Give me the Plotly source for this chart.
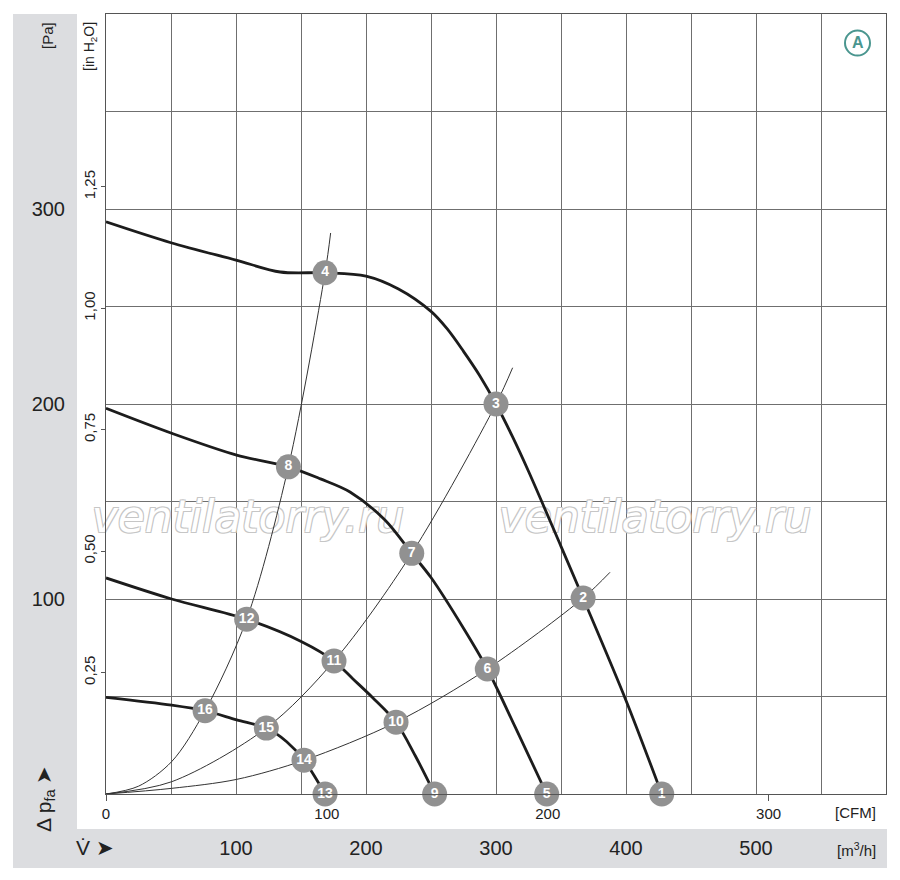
import plotly.graph_objects as go

# --- data (flow in m3/h, pressure in Pa) ---
fan1_flow = [0, 50, 100, 134, 168.5, 200, 225, 250, 262.5, 275, 287.5, 300, 312.5, 325, 350, 367, 400, 427.5]
fan1_pa = [293.4, 282.7, 273.8, 267.7, 267.3, 265.6, 259, 247.5, 238.5, 227, 214.5, 200, 183.5,
           165.5, 127, 100.5, 48, 0]

fan2_flow = [0, 50.5, 100.5, 140.3, 165, 187.7, 214.6, 235.2, 250, 275, 293.3, 315, 339]
fan2_pa = [197.8, 185, 173.8, 167.8, 161.6, 154.9, 140.5, 123.4, 111, 85, 64.1, 34, 0]

fan3_flow = [0, 50.5, 108.2, 150.5, 175.4, 190, 205, 223.1, 238, 252.8]
fan3_pa = [110.8, 100, 89.6, 78.1, 68.2, 59, 49.5, 36.8, 19.5, 0]

fan4_flow = [0, 50.5, 76.2, 100.5, 123.3, 139, 152.3, 168.5]
fan4_pa = [49.6, 45.6, 42.7, 38, 33.8, 26.8, 17.3, 0]

sysA_flow = [0, 25, 50.5, 76.2, 108.2, 140.3, 168.5, 172.8]
sysA_pa = [0, 4, 16.6, 42.7, 89.6, 167.8, 267.3, 287.7]
sysB_flow = [0, 50.5, 123.3, 175.4, 235.2, 300, 312.8]
sysB_pa = [0, 6.3, 33.8, 68.2, 123.4, 200, 218.6]
sysC_flow = [0, 50.5, 100.5, 152.3, 223.1, 293.3, 367, 387.7]
sysC_pa = [0, 2.9, 7.5, 17.3, 36.8, 64.1, 100.5, 113.7]

point_ids = [str(i) for i in range(1, 17)]
point_flow = [427.5, 367, 300, 168.5, 339, 293.3, 235.2, 140.3,
              252.8, 223.1, 175.4, 108.2, 168.5, 152.3, 123.3, 76.2]
point_pa = [0, 100.5, 200, 267.3, 0, 64.1, 123.4, 167.8,
            0, 36.8, 68.2, 89.6, 0, 17.3, 33.8, 42.7]

# axis ticks
flow_grid = [50, 100, 150, 200, 250, 300, 350, 400, 450, 500, 550]
flow_labels = ['', '100', '', '200', '', '300', '', '400', '', '500', '']
pa_grid = [50, 100, 150, 200, 250, 300, 350]
pa_labels = ['', '100', '', '200', '', '300', '']
cfm_ticks = [0, 100, 200, 300]
inh2o_ticks = [0.25, 0.5, 0.75, 1.0, 1.25]
inh2o_labels = ['0,25', '0,50', '0,75', '1,00', '1,25']

M3H_PER_CFM = 1.699
PA_PER_INH2O = 249.09
FLOW_MAX = 600
PA_MAX = 400

FONT = 'Liberation Sans, Arial, sans-serif'
GRID = '#6f6f6f'
GREY_BAND = '#dcdde0'
TEAL = '#4a968f'

# plot area in page pixels (the page body has an 8px margin)
OFF = 8
FIG_W, FIG_H = 900 - OFF, 880 - OFF
L, R, T, B = 106, 886, 14, 794
W, H = R - L, B - T


def px_x(x):
    return (x - L) / W


def px_y(y):
    return (B - y) / H


fig = go.Figure()

# watermark, drawn first so the curves pass over it
outline = '-1px -1px 0 #c6c6c6, 1px -1px 0 #c6c6c6, -1px 1px 0 #c6c6c6, 1px 1px 0 #c6c6c6'
fig.add_trace(go.Scatter(
    x=[px_x(248) * FLOW_MAX, px_x(655) * FLOW_MAX], y=[px_y(521) * PA_MAX] * 2,
    mode='text', text=['ventilatorry.ru'] * 2, textposition='middle center',
    textfont=dict(family='DejaVu Sans, sans-serif', size=44, color='white', style='italic', shadow=outline),
    cliponaxis=False, hoverinfo='skip', showlegend=False))

for fx, fy in [(sysA_flow, sysA_pa), (sysB_flow, sysB_pa), (sysC_flow, sysC_pa)]:
    fig.add_trace(go.Scatter(x=fx, y=fy, mode='lines',
                             line=dict(color='#333333', width=1, shape='spline', smoothing=0.9),
                             hoverinfo='skip', showlegend=False))

for fx, fy in [(fan1_flow, fan1_pa), (fan2_flow, fan2_pa), (fan3_flow, fan3_pa), (fan4_flow, fan4_pa)]:
    fig.add_trace(go.Scatter(x=fx, y=fy, mode='lines',
                             line=dict(color='#1c1c1c', width=2.8, shape='spline', smoothing=0.9),
                             hoverinfo='skip', showlegend=False))

# numbered operating points, drawn on the overlay (CFM / in H2O) axes so they sit above its ticks
fig.add_trace(go.Scatter(
    x=[f / M3H_PER_CFM for f in point_flow], y=[p / PA_PER_INH2O for p in point_pa],
    xaxis='x2', yaxis='y2',
    mode='markers+text', text=point_ids, textposition='middle center',
    marker=dict(size=25, color='#919191', line=dict(width=0)),
    textfont=dict(family=FONT, size=14, color='white', weight='bold'),
    cliponaxis=False, showlegend=False, hoverinfo='skip'))

shapes = [
    # grey L-shaped band
    dict(type='rect', xref='paper', yref='paper', x0=px_x(13), x1=px_x(77), y0=px_y(868), y1=px_y(14),
         fillcolor=GREY_BAND, line=dict(width=0), layer='below'),
    dict(type='rect', xref='paper', yref='paper', x0=px_x(13), x1=px_x(887), y0=px_y(868), y1=px_y(829),
         fillcolor=GREY_BAND, line=dict(width=0), layer='below'),
    # circled A
    dict(type='circle', xref='paper', yref='paper', x0=px_x(845), x1=px_x(870), y0=px_y(55.5), y1=px_y(30.5),
         line=dict(color=TEAL, width=2), fillcolor='white'),
]

annotations = [
    dict(x=px_x(47), y=px_y(36), text='[Pa]', textangle=-90, font=dict(family=FONT, size=15, color='#222')),
    dict(x=px_x(90), y=px_y(47), text='[in H<sub>2</sub>O]', textangle=-90,
         font=dict(family=FONT, size=14, color='#222')),
    dict(x=px_x(45), y=px_y(799), text='Δ p<sub>fa</sub> ➤', textangle=-90,
         font=dict(family=FONT, size=21, color='#222')),
    dict(x=px_x(95), y=px_y(847), text='V\u0307 ➤', font=dict(family=FONT, size=21, color='#222')),
    dict(x=px_x(855), y=px_y(813), text='[CFM]', font=dict(family=FONT, size=15, color='#222')),
    dict(x=px_x(856), y=px_y(849), text='[m<sup>3</sup>/h]', font=dict(family=FONT, size=15, color='#222')),
    dict(x=px_x(857.5), y=px_y(43), text='<b>A</b>', font=dict(family=FONT, size=16, color=TEAL)),
]
for a in annotations:
    a.update(xref='paper', yref='paper', showarrow=False, xanchor='center', yanchor='middle')

fig.update_layout(
    width=FIG_W, height=FIG_H, autosize=False,
    margin=dict(l=L - OFF, r=FIG_W - (R - OFF), t=T - OFF, b=FIG_H - (B - OFF)),
    paper_bgcolor='white', plot_bgcolor='white',
    shapes=shapes, annotations=annotations,
    xaxis=dict(range=[0, FLOW_MAX], tickvals=flow_grid, ticktext=flow_labels,
               showgrid=True, gridcolor=GRID, gridwidth=1, zeroline=False,
               showline=True, mirror=True, linecolor='#555', linewidth=1,
               ticks='', ticklabelstandoff=36,
               tickfont=dict(family=FONT, size=20, color='#222')),
    yaxis=dict(range=[0, PA_MAX], tickvals=pa_grid, ticktext=pa_labels,
               showgrid=True, gridcolor=GRID, gridwidth=1, zeroline=False,
               showline=True, mirror=True, linecolor='#555', linewidth=1,
               ticks='', ticklabelstandoff=36,
               tickfont=dict(family=FONT, size=20, color='#222')),
    xaxis2=dict(range=[0, FLOW_MAX / M3H_PER_CFM], overlaying='x', side='bottom', anchor='y2',
                tickvals=cfm_ticks, ticks='outside', ticklen=6, tickcolor='#555',
                showgrid=False, zeroline=False, showline=False, layer='below traces',
                tickfont=dict(family=FONT, size=15, color='#222')),
    yaxis2=dict(range=[0, PA_MAX / PA_PER_INH2O], overlaying='y', side='left', anchor='x2',
                tickvals=inh2o_ticks, ticktext=inh2o_labels, ticks='outside', ticklen=4,
                tickcolor='#555', tickangle=-90, showgrid=False, zeroline=False, showline=False,
                layer='below traces',
                tickfont=dict(family=FONT, size=15, color='#222')),
)

fig.write_html("out.html")
